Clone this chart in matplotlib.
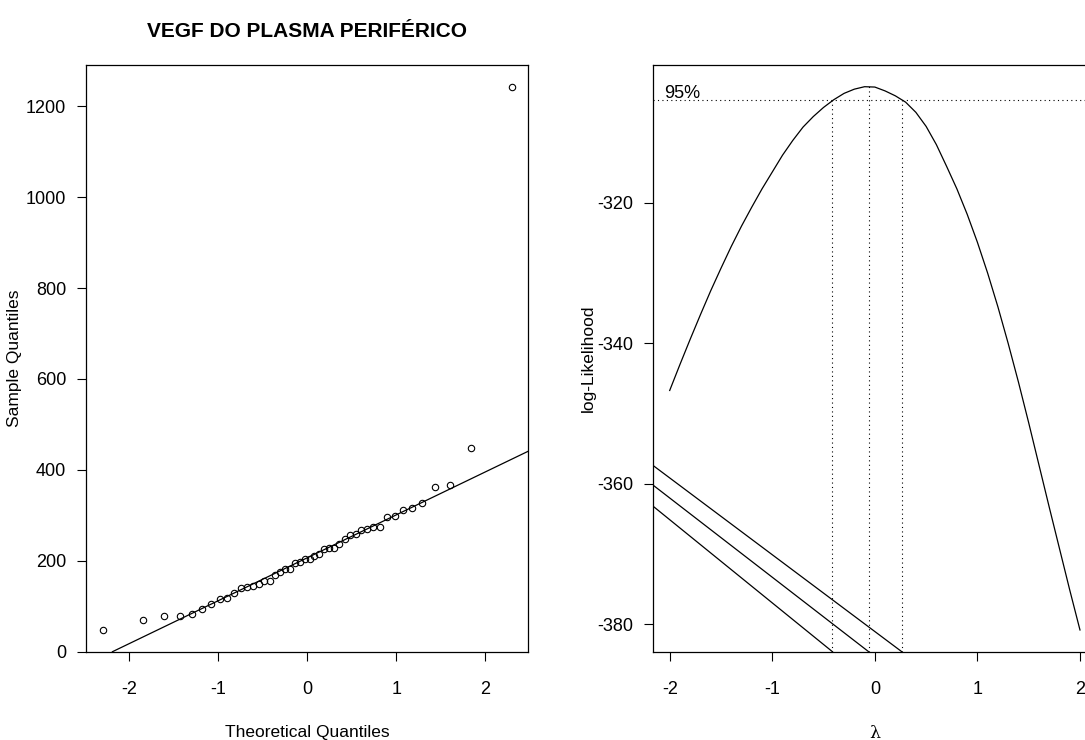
import numpy as np
import matplotlib
matplotlib.use("Agg")
import matplotlib.pyplot as plt
from statistics import NormalDist

plt.rcParams['font.family'] = ['Liberation Sans', 'DejaVu Sans']
plt.rcParams['axes.unicode_minus'] = False

# sorted sample values (VEGF, peripheral plasma)
vegf = [48.7, 69, 79, 79, 84, 94.5, 105, 117, 119, 129,
        140, 142, 145, 148, 155, 155, 169, 175, 182, 182.5,
        195, 197, 205, 205, 210, 215, 225.5, 228, 228, 238,
        248, 256, 258, 268, 271, 273.5, 273.5, 296, 299, 311,
        316, 326.5, 362, 367, 449, 1243]

# Box-Cox profile log-likelihood
lambdas = [-2.0, -1.9, -1.8, -1.7, -1.6, -1.5, -1.4, -1.3, -1.2, -1.1,
           -1.0, -0.9, -0.8, -0.7, -0.6, -0.5, -0.4, -0.3, -0.2, -0.1,
           0.0, 0.1, 0.2, 0.3, 0.4, 0.5, 0.6, 0.7, 0.8, 0.9,
           1.0, 1.1, 1.2, 1.3, 1.4, 1.5, 1.6, 1.7, 1.8, 1.9, 2.0]
loglik = [-346.7, -343.0, -339.4, -335.9, -332.5, -329.3, -326.2, -323.3, -320.6, -318.0,
          -315.6, -313.2, -311.1, -309.2, -307.7, -306.4, -305.3, -304.4, -303.8, -303.45,
          -303.5, -304.05, -304.75, -305.65, -307.1, -309.1, -311.7, -314.8, -318.0, -321.6,
          -325.6, -330.0, -334.8, -340.0, -345.5, -351.3, -357.3, -363.3, -369.2, -375.1, -380.8]
lambda_hat = -0.06
loglik_max = -303.4
ci_lower = -0.413
ci_upper = 0.263
lim95 = -305.32
# odd diagonal segments in the original plot: start on left edge, end on the bottom
diag_start_y = [-357.4, -360.2, -363.2]
diag_end_x = [ci_upper, lambda_hat, ci_lower]

fig = plt.figure(figsize=(10.85, 7.4), dpi=100)
ax1 = fig.add_axes([0.0795, 0.1193, 0.4071, 0.7929])
ax2 = fig.add_axes([0.6021, 0.1193, 0.4084, 0.7929])

fs = 13
lfs = 12.5
dotted = (0, (1, 3))

# ---- left: normal QQ plot
n = len(vegf)
theo = [NormalDist().inv_cdf((i - 0.5) / n) for i in range(1, n + 1)]
ax1.plot(theo, vegf, 'o', ms=4.6, mfc='none', mec='black', mew=0.8)
q1, q3 = np.percentile(vegf, [25, 75])
z1, z3 = NormalDist().inv_cdf(0.25), NormalDist().inv_cdf(0.75)
slope = (q3 - q1) / (z3 - z1)
ax1.axline((z1, q1), slope=slope, color='black', lw=0.9)
xr = max(theo) - min(theo)
ax1.set_xlim(min(theo) - 0.04 * xr, max(theo) + 0.04 * xr)
yr = max(vegf) - min(vegf)
ax1.set_ylim(min(vegf) - 0.04 * yr, max(vegf) + 0.04 * yr)
ax1.set_xticks([-2, -1, 0, 1, 2])
ax1.set_yticks([0, 200, 400, 600, 800, 1000, 1200])
ax1.set_xlabel('Theoretical Quantiles', fontsize=lfs, labelpad=19)
ax1.set_ylabel('Sample Quantiles', fontsize=lfs, labelpad=3)
ax1.set_title('VEGF DO PLASMA PERIFÉRICO', fontsize=15, fontweight='bold', pad=20)

# ---- right: Box-Cox log-likelihood profile
ax2.plot(lambdas, loglik, color='black', lw=0.9)
ax2.set_xlim(-2.16, 2.16)
lr = max(loglik) - min(loglik)
ax2.set_ylim(min(loglik) - 0.04 * lr, max(loglik) + 0.04 * lr)
y0 = ax2.get_ylim()[0]
ax2.axhline(lim95, color='black', lw=0.8, ls=dotted)
ax2.plot([lambda_hat, lambda_hat], [y0, loglik_max], color='black', lw=0.8, ls=dotted)
ax2.plot([ci_lower, ci_lower], [y0, lim95], color='black', lw=0.8, ls=dotted)
ax2.plot([ci_upper, ci_upper], [y0, lim95], color='black', lw=0.8, ls=dotted)
for sy, ex in zip(diag_start_y, diag_end_x):
    ax2.plot([-2.16, ex], [sy, y0], color='black', lw=0.9)
ax2.text(-1.878, lim95 + 0.2, '95%', fontsize=fs, ha='center', va='baseline')
ax2.set_xticks([-2, -1, 0, 1, 2])
ax2.set_yticks([-380, -360, -340, -320])
ax2.set_xlabel('λ', fontsize=lfs, labelpad=19, family=['DejaVu Serif'])
ax2.set_ylabel('log-Likelihood', fontsize=lfs, labelpad=1)

for ax in (ax1, ax2):
    ax.tick_params(direction='out', length=6.7, width=0.8, labelsize=fs)
    ax.tick_params(axis='x', pad=14.5)
    ax.tick_params(axis='y', pad=7.7)
    for s in ax.spines.values():
        s.set_linewidth(0.9)

fig.savefig('out.png', dpi=100)
